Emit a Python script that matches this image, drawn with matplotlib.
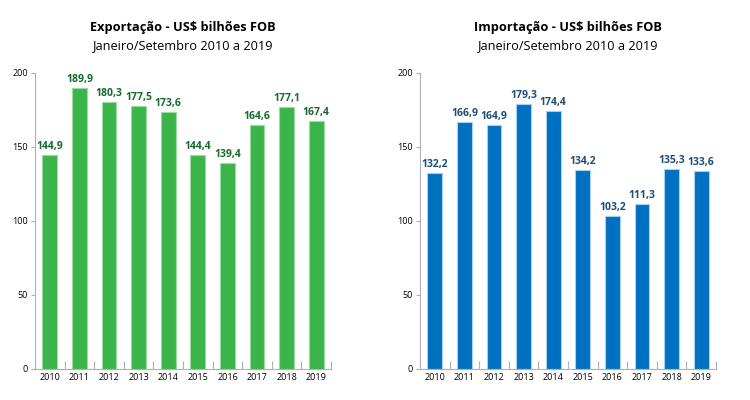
import matplotlib
matplotlib.use("Agg")
import matplotlib.pyplot as plt
import numpy as np

years = ["2010", "2011", "2012", "2013", "2014", "2015", "2016", "2017", "2018", "2019"]
export_vals = [144.9, 189.9, 180.3, 177.5, 173.6, 144.4, 139.4, 164.6, 177.1, 167.4]
import_vals = [132.2, 166.9, 164.9, 179.3, 174.4, 134.2, 103.2, 111.3, 135.3, 133.6]
yticks = [0, 50, 100, 150, 200]

titles = ["Exportação - US$ bilhões FOB", "Importação - US$ bilhões FOB"]
subtitle = "Janeiro/Setembro 2010 a 2019"

plt.rcParams['font.family'] = ['Open Sans', 'DejaVu Sans']

fig = plt.figure(figsize=(7.5, 4), dpi=100)
axes_pos = [[0.0467, 0.0775, 0.3947, 0.74], [0.56, 0.0775, 0.3947, 0.74]]
colors = ["#3bb54a", "#0070c0"]
edges = ["#9bdca2", "#a8d0f0"]
label_colors = ["#176a2c", "#1f4e79"]
series = [export_vals, import_vals]

for i in range(2):
    ax = fig.add_axes(axes_pos[i])
    x = np.arange(len(years))
    ax.bar(x, series[i], width=0.5, color=colors[i], edgecolor=edges[i], linewidth=0.8)
    for xi, v in zip(x, series[i]):
        ax.text(xi, v + 2, f"{v:.1f}".replace(".", ","), ha="center", va="bottom",
                fontsize=7.5, fontweight="bold", color=label_colors[i])
    ax.set_xlim(-0.5, len(years) - 0.5)
    ax.set_ylim(0, 200)
    ax.set_yticks(yticks)
    ax.set_yticklabels([str(t) for t in yticks], fontsize=6.5)
    ax.set_xticks(x)
    ax.set_xticklabels(years, fontsize=6.5)
    ax.set_xticks(np.arange(-0.5, len(years)), minor=True)
    ax.tick_params(axis='x', which='major', length=0, pad=3)
    ax.tick_params(axis='x', which='minor', direction='in', length=6, color="#b0b0b0", width=0.8)
    ax.tick_params(axis='y', length=3, color="#b0b0b0", width=0.8, pad=2)
    for s in ["top", "right"]:
        ax.spines[s].set_visible(False)
    for s in ["left", "bottom"]:
        ax.spines[s].set_color("#b0b0b0")
        ax.spines[s].set_linewidth(0.8)
    cx = axes_pos[i][0] + axes_pos[i][2] / 2
    fig.text(cx, 1 - 28 / 400, titles[i], ha="center", va="center", fontsize=9.2, fontweight="bold")
    fig.text(cx, 1 - 46 / 400, subtitle, ha="center", va="center", fontsize=9.2)

fig.savefig("out.png", dpi=100)
